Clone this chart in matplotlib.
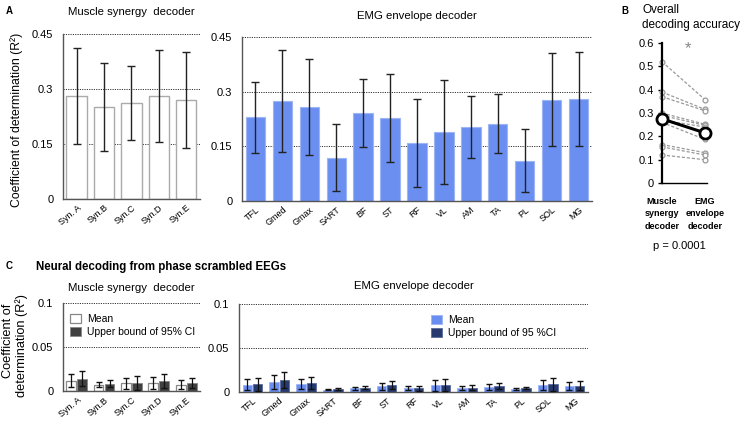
import matplotlib.pyplot as plt
import numpy as np

plt.rcParams['font.family'] = ['Liberation Sans', 'DejaVu Sans']

# ---- data ----
syn_names = ['Syn. A', 'Syn.B', 'Syn.C', 'Syn.D', 'Syn.E']
syn_mean = [0.281, 0.252, 0.262, 0.281, 0.270]
syn_sd = [0.130, 0.120, 0.102, 0.125, 0.130]

emg_names = ['TFL', 'Gmed', 'Gmax', 'SART', 'BF', 'ST', 'RF', 'VL', 'AM', 'TA', 'PL', 'SOL', 'MG']
emg_mean = [0.229, 0.275, 0.258, 0.118, 0.242, 0.227, 0.159, 0.189, 0.202, 0.212, 0.111, 0.278, 0.280]
emg_sd = [0.097, 0.140, 0.131, 0.092, 0.093, 0.120, 0.121, 0.143, 0.085, 0.081, 0.087, 0.128, 0.128]

# overall accuracy per subject
subj_syn = [0.52, 0.39, 0.37, 0.30, 0.29, 0.27, 0.26, 0.165, 0.155, 0.12]
subj_emg = [0.358, 0.316, 0.31, 0.252, 0.247, 0.24, 0.187, 0.13, 0.12, 0.10]
overall_mean = [0.275, 0.215]

# phase scrambled EEG decoding
scr_syn_mean = [0.0117, 0.0071, 0.0090, 0.0090, 0.0071]
scr_syn_err = [0.0073, 0.0028, 0.0062, 0.0070, 0.0050]
scr_syn_ub = [0.0139, 0.0083, 0.0094, 0.0110, 0.0086]
scr_syn_ub_err = [0.0087, 0.0043, 0.0077, 0.0080, 0.0057]

scr_emg_mean = [0.0083, 0.0117, 0.0094, 0.0026, 0.0042, 0.0064, 0.0042, 0.0075, 0.0042, 0.0057, 0.0038, 0.0079, 0.0064]
scr_emg_err = [0.0066, 0.0080, 0.0055, 0.0006, 0.0016, 0.0036, 0.0022, 0.0062, 0.0022, 0.0030, 0.0012, 0.0060, 0.0047]
scr_emg_ub = [0.0087, 0.0136, 0.0102, 0.0034, 0.0049, 0.0079, 0.0042, 0.0083, 0.0049, 0.0068, 0.0045, 0.0087, 0.0072]
scr_emg_ub_err = [0.0076, 0.0087, 0.0066, 0.0006, 0.0017, 0.0043, 0.0027, 0.0068, 0.0030, 0.0038, 0.0014, 0.0072, 0.0055]

blue = '#6b8ff0'
navy = '#263a70'
dgray = '#404040'
spine_col = '#555555'
tick_fs = 8
xt_fs = 6.5
title_fs = 8.2


def style_axes(ax, ymax, yticks, ylabels):
    for s in ['top', 'right']:
        ax.spines[s].set_visible(False)
    for s in ['left', 'bottom']:
        ax.spines[s].set_color(spine_col)
        ax.spines[s].set_linewidth(1.0)
    ax.set_ylim(0, ymax)
    ax.set_yticks(yticks)
    ax.set_yticklabels(ylabels, fontsize=tick_fs)
    ax.tick_params(axis='y', length=0, pad=7)
    ax.tick_params(axis='x', length=0, pad=3)
    for t in yticks[1:]:
        ax.axhline(t, color='#333333', ls=(0, (1.2, 1.2)), lw=0.7, zorder=0)


fig = plt.figure(figsize=(7.4, 4.24), dpi=100)

# ---------- A left ----------
ax1 = fig.add_axes([0.0851, 0.5307, 0.185, 0.389])
x = np.arange(len(syn_names))
ax1.bar(x, syn_mean, width=0.75, color='white', edgecolor='#aaaaaa', lw=1.0, zorder=2)
ax1.errorbar(x, syn_mean, yerr=syn_sd, fmt='none', ecolor='#222222', elinewidth=1.0, capsize=3, zorder=3)
ax1.set_xlim(-0.5, len(syn_names) - 0.5)
style_axes(ax1, 0.45, [0, 0.15, 0.3, 0.45], ['0', '0.15', '0.3', '0.45'])
ax1.set_xticks(x)
ax1.set_xticklabels(syn_names, rotation=40, ha='right', fontsize=xt_fs, rotation_mode='anchor')
ax1.set_title('Muscle synergy  decoder', fontsize=title_fs, pad=14)
ax1.set_ylabel('Coefficient of determination (R²)', fontsize=8.8)
ax1.yaxis.set_label_coords(-0.29, 0.48)

# ---------- A right ----------
ax2 = fig.add_axes([0.327, 0.526, 0.473, 0.387])
x = np.arange(len(emg_names))
ax2.bar(x, emg_mean, width=0.72, color=blue, edgecolor='#9db5f5', lw=0.8, zorder=2)
ax2.errorbar(x, emg_mean, yerr=emg_sd, fmt='none', ecolor='#222222', elinewidth=1.0, capsize=3, zorder=3)
ax2.set_xlim(-0.5, len(emg_names) - 0.5)
style_axes(ax2, 0.45, [0, 0.15, 0.3, 0.45], ['0', '0.15', '0.3', '0.45'])
ax2.set_xticks(x)
ax2.set_xticklabels(emg_names, rotation=40, ha='right', fontsize=xt_fs, rotation_mode='anchor')
ax2.set_title('EMG envelope decoder', fontsize=title_fs, pad=13)

# ---------- B ----------
ax3 = fig.add_axes([0.8946, 0.5684, 0.0608, 0.330])
for a, b in zip(subj_syn, subj_emg):
    ax3.plot([0, 1], [a, b], color='#999999', ls=(0, (2.5, 1.5)), lw=0.9,
             marker='o', ms=3.5, mfc='white', mec='#999999', mew=0.9, zorder=2, clip_on=False)
ax3.plot([0, 1], overall_mean, color='black', lw=2.2, marker='o', ms=8,
         mfc='white', mec='black', mew=2, zorder=3, clip_on=False)
ax3.set_xlim(0, 1.05)
ax3.set_ylim(0, 0.6)
ax3.set_yticks(np.arange(0, 0.61, 0.1))
ax3.set_yticklabels(['0', '0.1', '0.2', '0.3', '0.4', '0.5', '0.6'], fontsize=tick_fs)
ax3.tick_params(axis='y', length=3, width=1.0, pad=3)
for s in ['top', 'right']:
    ax3.spines[s].set_visible(False)
ax3.spines['left'].set_linewidth(1.6)
ax3.spines['bottom'].set_linewidth(1.0)
ax3.set_xticks([0, 1])
ax3.set_xticklabels(['Muscle\nsynergy\ndecoder', 'EMG\nenvelope\ndecoder'],
                    fontsize=6.5, fontweight='bold', linespacing=1.5)
ax3.tick_params(axis='x', length=0, pad=10)
ax3.text(0.6, 0.575, '*', ha='center', va='center', fontsize=12, color='#888888')

# ---------- C left ----------
ax4 = fig.add_axes([0.0851, 0.0778, 0.185, 0.2075])
x = np.arange(len(syn_names))
w = 0.36
ax4.bar(x - 0.2, scr_syn_mean, width=w, color='white', edgecolor='#888888', lw=0.9, zorder=2, label='Mean')
ax4.bar(x + 0.2, scr_syn_ub, width=w, color=dgray, edgecolor='#888888', lw=0.6, zorder=2,
        label='Upper bound of 95% CI')
ax4.errorbar(x - 0.2, scr_syn_mean, yerr=scr_syn_err, fmt='none', ecolor='#111111', elinewidth=0.9, capsize=2.5, zorder=3)
ax4.errorbar(x + 0.2, scr_syn_ub, yerr=scr_syn_ub_err, fmt='none', ecolor='#111111', elinewidth=0.9, capsize=2.5, zorder=3)
ax4.set_xlim(-0.5, len(syn_names) - 0.5)
style_axes(ax4, 0.1, [0, 0.05, 0.1], ['0', '0.05', '0.1'])
ax4.set_xticks(x)
ax4.set_xticklabels(syn_names, rotation=40, ha='right', fontsize=xt_fs, rotation_mode='anchor')
ax4.set_title('Muscle synergy  decoder', fontsize=title_fs, pad=9)
ax4.legend(loc='upper left', bbox_to_anchor=(0.0, 0.96), frameon=False, fontsize=7.5,
           handlelength=1.0, handleheight=1.0, handletextpad=0.6, labelspacing=0.25, borderaxespad=0.3)

# two-line y label of panel C
fig.text(0.0105, 0.196, 'Coefficient of', rotation=90, fontsize=9.2, ha='center', va='center')
fig.text(0.0285, 0.186, 'determination (R²)', rotation=90, fontsize=9.2, ha='center', va='center')

# ---------- C right ----------
ax5 = fig.add_axes([0.323, 0.0755, 0.4716, 0.2075])
x = np.arange(len(emg_names))
w = 0.35
ax5.bar(x - 0.19, scr_emg_mean, width=w, color=blue, edgecolor='#9db5f5', lw=0.6, zorder=2, label='Mean')
ax5.bar(x + 0.19, scr_emg_ub, width=w, color=navy, edgecolor='#5a6a9a', lw=0.6, zorder=2,
        label='Upper bound of 95 %CI')
ax5.errorbar(x - 0.19, scr_emg_mean, yerr=scr_emg_err, fmt='none', ecolor='#111111', elinewidth=0.9, capsize=2.5, zorder=3)
ax5.errorbar(x + 0.19, scr_emg_ub, yerr=scr_emg_ub_err, fmt='none', ecolor='#111111', elinewidth=0.9, capsize=2.5, zorder=3)
ax5.set_xlim(-0.5, len(emg_names) - 0.5)
style_axes(ax5, 0.1, [0, 0.05, 0.1], ['0', '0.05', '0.1'])
ax5.set_xticks(x)
ax5.set_xticklabels(emg_names, rotation=40, ha='right', fontsize=xt_fs, rotation_mode='anchor')
ax5.set_title('EMG envelope decoder', fontsize=title_fs, pad=11)
ax5.legend(loc='upper left', bbox_to_anchor=(0.53, 0.96), frameon=False, fontsize=7.5,
           handlelength=1.0, handleheight=1.0, handletextpad=0.6, labelspacing=0.25, borderaxespad=0.3)

# ---------- figure text ----------
fig.text(0.008, 0.985, 'A', fontsize=7, fontweight='bold', va='top')
fig.text(0.84, 0.985, 'B', fontsize=7, fontweight='bold', va='top')
fig.text(0.868, 0.99, 'Overall\ndecoding accuracy', fontsize=8.5, va='top', ha='left', linespacing=1.3)
fig.text(0.918, 0.42, 'p = 0.0001', fontsize=8, ha='center', va='center')
fig.text(0.008, 0.385, 'C', fontsize=7, fontweight='bold', va='top')
fig.text(0.049, 0.37, 'Neural decoding from phase scrambled EEGs', fontsize=8.3, fontweight='bold', va='center')

fig.savefig('out.png', dpi=100)
